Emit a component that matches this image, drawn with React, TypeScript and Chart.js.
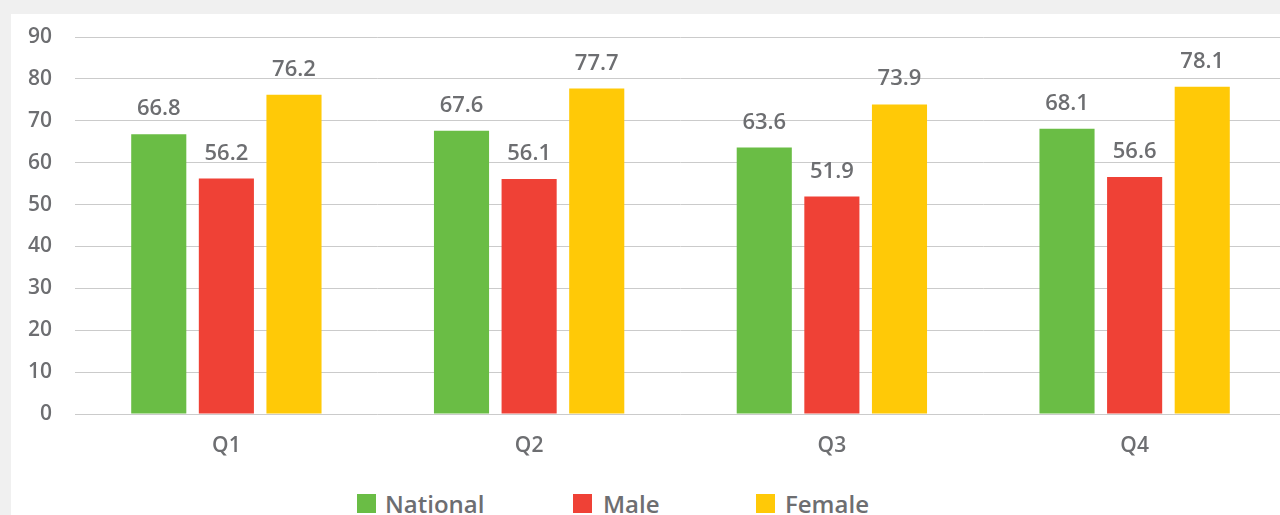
import React, { useEffect, useRef } from "react";
import { Chart, registerables } from "chart.js";

Chart.register(...registerables);

const categories = ["Q1", "Q2", "Q3", "Q4"];
const nationalValues = [66.8, 67.6, 63.6, 68.1];
const maleValues = [56.2, 56.1, 51.9, 56.6];
const femaleValues = [76.2, 77.7, 73.9, 78.1];
const seriesNames = ["National", "Male", "Female"];
const seriesColors = ["#6abd45", "#ef4136", "#ffc907"];
const yMin = 0;
const yMax = 90;
const yStep = 10;

const FONT = "'Open Sans', 'DejaVu Sans', sans-serif";
const TEXT = "#6d6e71";

const valueLabels = {
  id: "valueLabels",
  afterDatasetsDraw(chart: any) {
    const ctx = chart.ctx;
    ctx.save();
    ctx.font = `600 22px ${FONT}`;
    ctx.fillStyle = TEXT;
    ctx.textAlign = "center";
    ctx.textBaseline = "alphabetic";
    chart.data.datasets.forEach((ds: any, di: number) => {
      const meta = chart.getDatasetMeta(di);
      meta.data.forEach((el: any, i: number) => {
        ctx.fillText(Number(ds.data[i]).toFixed(1), el.x, el.y - 19);
      });
    });
    ctx.restore();
  },
};

export default function App() {
  const ref = useRef<HTMLCanvasElement | null>(null);

  useEffect(() => {
    if (!ref.current) return;
    const chart = new Chart(ref.current, {
      type: "bar",
      data: {
        labels: categories,
        datasets: [nationalValues, maleValues, femaleValues].map((d, i) => ({
          label: seriesNames[i],
          data: d,
          backgroundColor: seriesColors[i],
          borderWidth: 0,
          categoryPercentage: 0.67,
          barPercentage: 0.815,
        })),
      },
      options: {
        responsive: false,
        animation: false,
        layout: { padding: { top: 23, left: 0, right: 0, bottom: 0 } },
        plugins: {
          legend: { display: false },
          tooltip: { enabled: false },
        },
        scales: {
          x: {
            grid: { display: false, drawTicks: false },
            border: { display: false },
            ticks: {
              color: TEXT,
              font: { family: FONT, size: 21, weight: "600" },
              padding: 19,
            },
            afterFit(scale: any) {
              scale.height = 60;
            },
          },
          y: {
            min: yMin,
            max: yMax,
            grid: { color: "#cbcbcb", lineWidth: 1, drawTicks: false },
            border: { display: false },
            ticks: {
              stepSize: yStep,
              color: TEXT,
              font: { family: FONT, size: 21, weight: "600" },
              padding: 23,
            },
            afterFit(scale: any) {
              scale.width = 64;
              scale.paddingTop = 0;
              scale.paddingBottom = 0;
            },
          },
        },
      },
      plugins: [valueLabels],
    });
    return () => chart.destroy();
  }, []);

  const legendItems = [
    { box: 357, text: 385 },
    { box: 573, text: 603 },
    { box: 756, text: 785 },
  ];

  return (
    <div
      style={{
        position: "fixed",
        left: 0,
        top: 0,
        width: 1280,
        height: 515,
        background: "#f0f0f0",
        overflow: "hidden",
      }}
    >
      <div
        style={{
          position: "absolute",
          left: 11,
          top: 14,
          width: 1300,
          height: 520,
          background: "#ffffff",
        }}
      />
      <canvas
        ref={ref}
        width={1275}
        height={460}
        style={{ position: "absolute", left: 11, top: 14, width: 1275, height: 460 }}
      />
      {seriesNames.map((name, i) => (
        <React.Fragment key={name}>
          <div
            style={{
              position: "absolute",
              left: legendItems[i].box,
              top: 494,
              width: 19,
              height: 19,
              background: seriesColors[i],
            }}
          />
          <div
            style={{
              position: "absolute",
              left: legendItems[i].text,
              top: 492,
              fontFamily: FONT,
              fontWeight: 600,
              fontSize: 24,
              lineHeight: "24px",
              color: TEXT,
              whiteSpace: "nowrap",
            }}
          >
            {name}
          </div>
        </React.Fragment>
      ))}
    </div>
  );
}
